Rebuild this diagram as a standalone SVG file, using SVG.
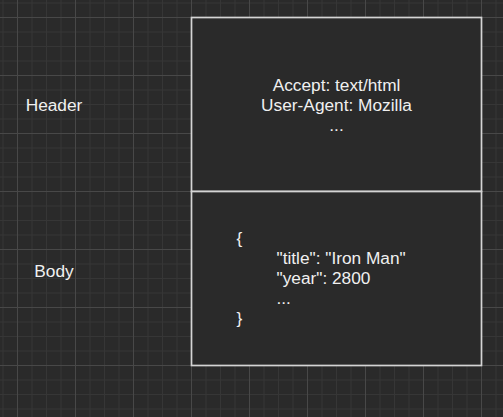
<svg xmlns="http://www.w3.org/2000/svg" width="503" height="417" viewBox="0 0 503 417">
  <style>
    .lbl { font-family: "Liberation Sans", Arial, sans-serif; font-size: 17.3px; fill: #f0f0f0; }
    .c { text-anchor: middle; }
    .box { fill: #2a2a2a; stroke: #d4d4d4; stroke-width: 1.7; }
  </style>
  <defs>
    <pattern id="grid" patternUnits="userSpaceOnUse" x="17" y="17" width="58" height="58">
      <rect width="58" height="58" fill="#2a2a2a"/>
      <g fill="#363636">
        <rect x="14.5" y="0" width="1" height="58"/>
        <rect x="29" y="0" width="1" height="58"/>
        <rect x="43.5" y="0" width="1" height="58"/>
        <rect x="0" y="14.5" width="58" height="1"/>
        <rect x="0" y="29" width="58" height="1"/>
        <rect x="0" y="43.5" width="58" height="1"/>
      </g>
      <g fill="#484848">
        <rect x="0" y="0" width="1" height="58"/>
        <rect x="0" y="0" width="58" height="1"/>
      </g>
    </pattern>
  </defs>
  <rect width="503" height="417" fill="url(#grid)"/>

  <g id="connectors"/>

  <g id="header-label">
    <text class="lbl c" x="54" y="111">Header</text>
  </g>
  <g id="body-label">
    <text class="lbl c" x="54" y="277">Body</text>
  </g>

  <g id="header-box">
    <rect class="box" x="191.5" y="17.5" width="290" height="174"/>
    <text class="lbl c" x="336.5" y="90.7">Accept: text/html</text>
    <text class="lbl c" x="336.5" y="110.7">User-Agent: Mozilla</text>
    <text class="lbl c" x="336.5" y="130.7">...</text>
  </g>

  <g id="body-box">
    <rect class="box" x="191.5" y="191.5" width="290" height="174"/>
    <text class="lbl" x="236.5" y="244">{</text>
    <text class="lbl" x="276.5" y="264">"title": "Iron Man"</text>
    <text class="lbl" x="276.5" y="284">"year": 2800</text>
    <text class="lbl" x="276.5" y="304">...</text>
    <text class="lbl" x="236.5" y="324">}</text>
  </g>
</svg>
